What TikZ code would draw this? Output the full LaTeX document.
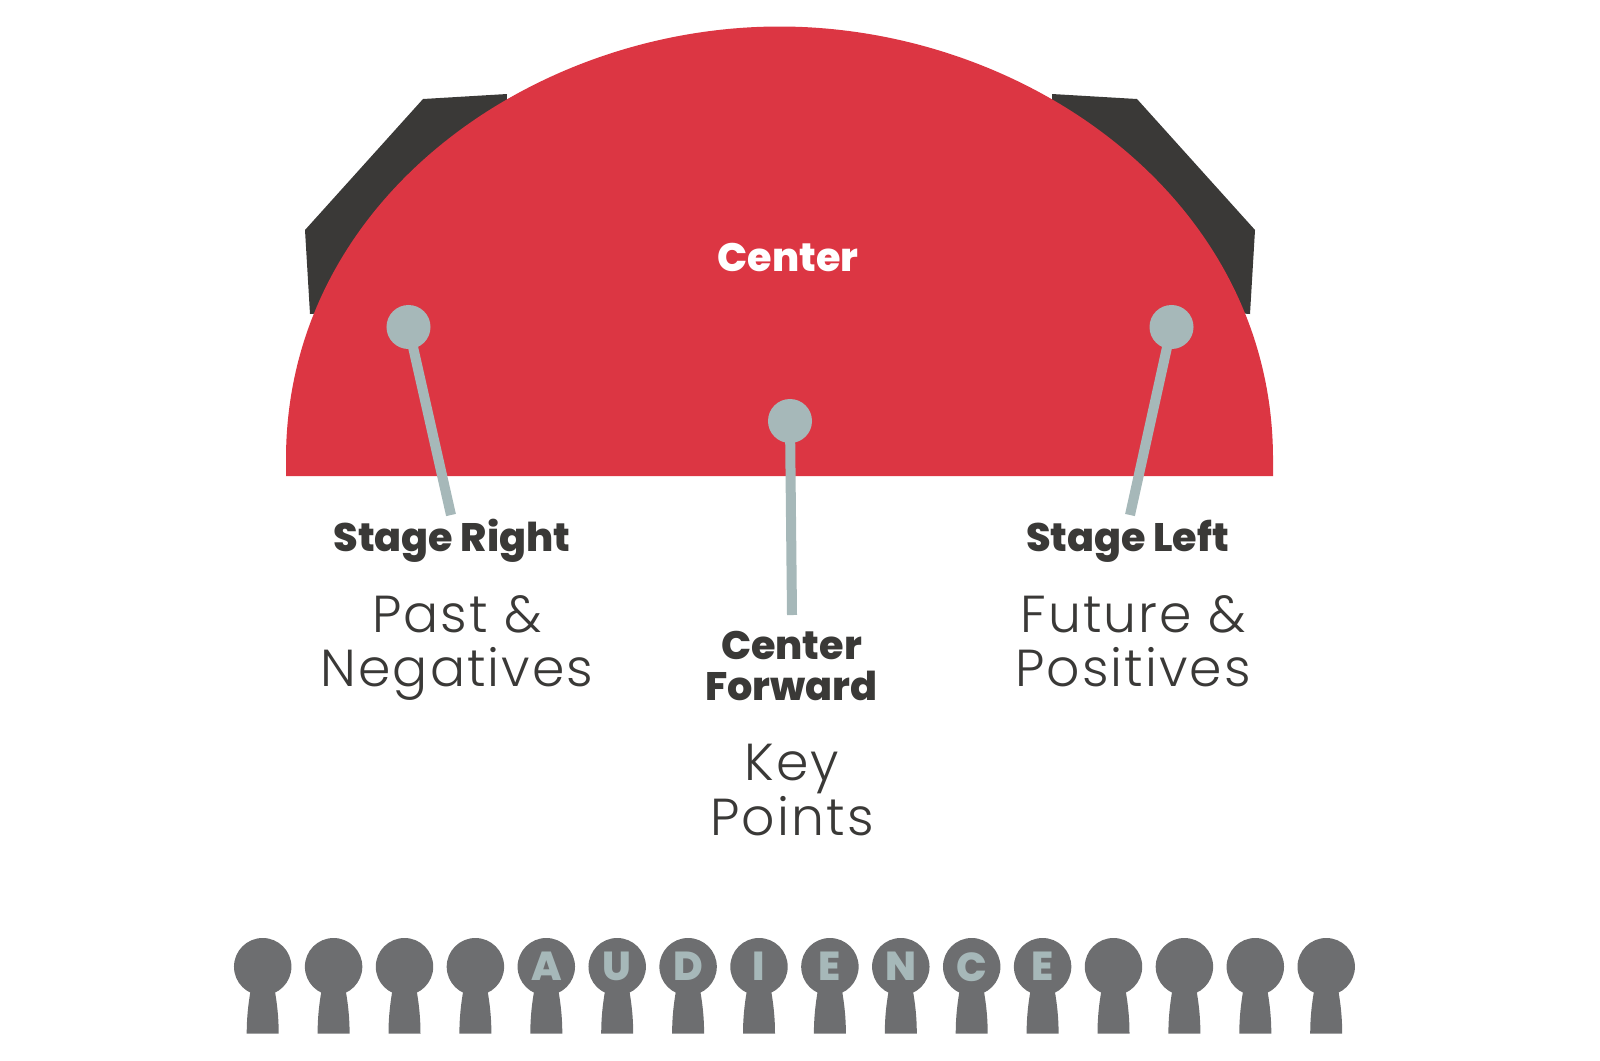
\documentclass[tikz,border=0pt]{standalone}
\usepackage{fontspec}
\setmainfont{Poppins}
\newfontfamily\lightfont[LetterSpace=4]{Poppins Light}
\newfontfamily\heavyfont{Poppins ExtraBold}
\definecolor{stagered}{HTML}{DC3643}
\definecolor{wingdark}{HTML}{3A3937}
\definecolor{pingrey}{HTML}{A6B8B9}
\definecolor{crowdgrey}{HTML}{6D6E70}
\tikzset{
  pin/.style={circle,fill=pingrey,minimum size=.44cm,inner sep=0pt},
  stem/.style={draw=pingrey,line width=1mm},
  head/.style={circle,fill=crowdgrey,minimum size=.574cm,inner sep=0pt,text=pingrey,
               font=\heavyfont\fontsize{11.5}{12}\selectfont},
  title/.style={text=wingdark,align=center,font=\heavyfont\fontsize{11.3}{11.7}\selectfont},
  meaning/.style={text=wingdark,align=center,font=\lightfont\fontsize{14.8}{15.4}\selectfont},
}
\begin{document}
\begin{tikzpicture}[x=.01cm,y=-.01cm]
\useasboundingbox (0,0) rectangle (1600,1060);
% wings behind the stage
\fill[wingdark] (507,94) -- (423,99) -- (305,230) -- (310,314) -- (500,300) -- cycle;
\fill[wingdark] (1052,94) -- (1137,99) -- (1255,230) -- (1250,314) -- (1059,300) -- cycle;
% stage
\fill[stagered] (286,476) -- (286,459)
  .. controls (286,199) and (533,26.5) .. (779.5,26.5)
  .. controls (1026,26.5) and (1273,199) .. (1273,459) -- (1273,476) -- cycle;
\node[text=white,font=\heavyfont\fontsize{11.3}{12}\selectfont] (center) at (788,257) {Center};
% pins
\node[pin] (pinRight) at (408.5,327) {};
\node[pin] (pinForward) at (790,421) {};
\node[pin] (pinLeft) at (1171.5,327) {};
\coordinate (endRight) at (451,515);
\coordinate (endForward) at (792,615);
\coordinate (endLeft) at (1130,515);
\draw[stem] (pinRight.center) -- (endRight);
\draw[stem] (pinForward.center) -- (endForward);
\draw[stem] (pinLeft.center) -- (endLeft);
% labels
\node[title] (stageRight) at (452,541) {Stage Right};
\node[meaning] (past) at (457,648) {Past \&\\Negatives};
\node[title] (forward) at (791.5,666) {Center\\Forward};
\node[meaning] (key) at (792,790) {Key\\Points};
\node[title] (stageLeft) at (1127.5,541) {Stage Left};
\node[meaning] (future) at (1133,641) {Future \&\\Positives};
% audience
\foreach \i/\letter in {0/,1/,2/,3/,4/A,5/U,6/D,7/I,8/E,9/N,10/C,11/E,12/,13/,14/,15/}{
  \pgfmathsetmacro{\x}{262.7+70.9*\i}
  \node[head] (head\i) at (\x,966.7) {\letter};
  \fill[crowdgrey,shift={(\x,0)}] (-12,990) .. controls (-14.5,1004) and (-16,1018) .. (-16,1033.5)
    -- (16,1033.5) .. controls (16,1018) and (14.5,1004) .. (12,990) -- cycle;
}
\end{tikzpicture}
\end{document}
